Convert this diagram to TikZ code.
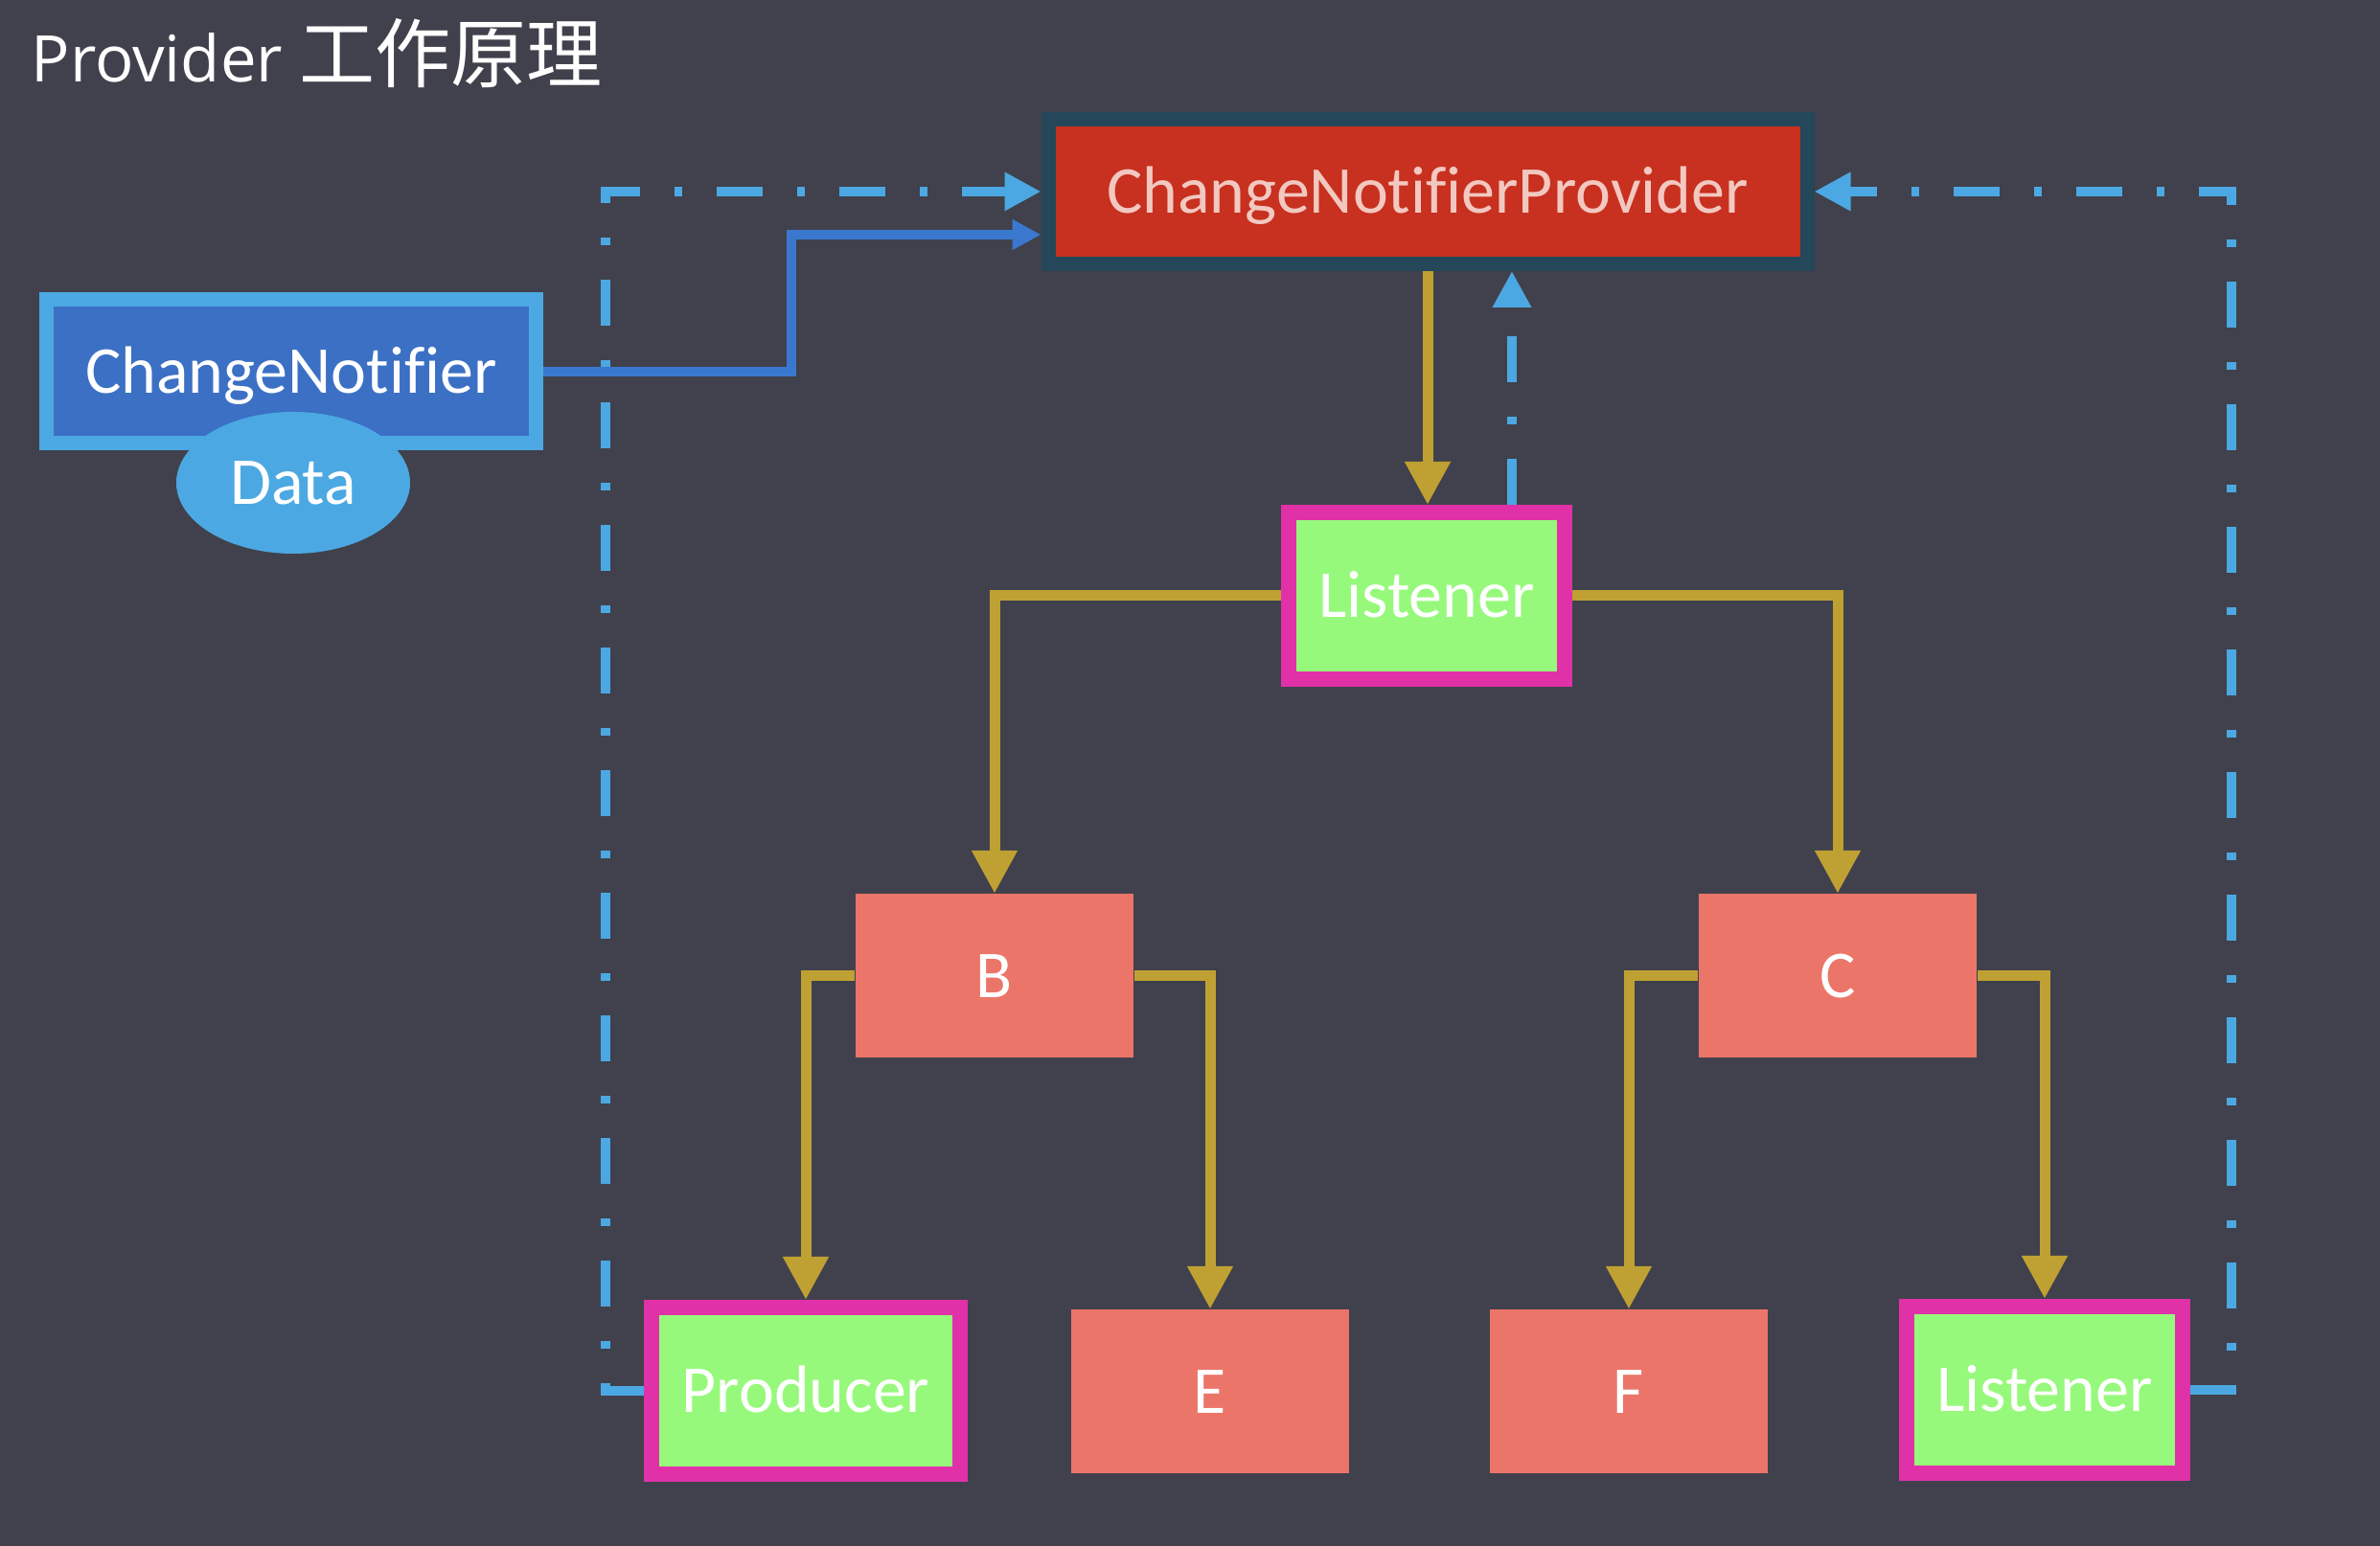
\documentclass[tikz,border=0pt]{standalone}
\usepackage{fontspec}
\setmainfont{Carlito}[Ligatures=NoCommon]
\newfontfamily\titlefont{Open Sans}
\newfontfamily\cjk{Noto Sans CJK SC}
\usetikzlibrary{arrows.meta,shapes.geometric}

\definecolor{bgc}{HTML}{40414C}
\definecolor{provred}{HTML}{C8301F}
\definecolor{provedge}{HTML}{24475A}
\definecolor{provtext}{HTML}{F2C8C0}
\definecolor{notiblue}{HTML}{3B70C4}
\definecolor{skyblue}{HTML}{4CA8E2}
\definecolor{linkblue}{HTML}{3A78D0}
\definecolor{leafgreen}{HTML}{97F97C}
\definecolor{rim}{HTML}{E031A8}
\definecolor{salmon}{HTML}{EC7569}
\definecolor{gold}{HTML}{BFA032}

\tikzset{
    boxtext/.style={font=\fontsize{19.9}{24}\selectfont, text=white, text height=0.45cm, text depth=0cm, inner sep=0pt},
    provbox/.style={boxtext, fill=provred, draw=provedge, line width=0.15cm, minimum width=7.92cm, minimum height=1.51cm, text=provtext},
    notibox/.style={boxtext, fill=notiblue, draw=skyblue, line width=0.15cm, minimum width=5.11cm, minimum height=1.50cm},
    databox/.style={boxtext, ellipse, fill=skyblue, minimum width=2.44cm, minimum height=1.48cm},
    lisbox/.style={boxtext, fill=leafgreen, draw=rim, line width=0.16cm, minimum width=2.88cm, minimum height=1.74cm},
    widgetbox/.style={boxtext, fill=salmon, minimum width=2.9cm, minimum height=1.71cm},
    tree/.style={gold, line width=0.11cm, -{Triangle[length=0.45cm,width=0.45cm]}},
    notify/.style={skyblue, line width=0.095cm, dash pattern=on 0.48cm off 0.36cm on 0.08cm off 0.36cm, -{Triangle[length=0.38cm,width=0.38cm]}},
    link/.style={linkblue, line width=0.095cm, -{Triangle[length=0.3cm,width=0.3cm]}}
}

\begin{document}
\begin{tikzpicture}
            \fill[bgc] (0,0) rectangle (24.84,16.14);
            \useasboundingbox (0,0) rectangle (24.84,16.14);

            \node (title) [anchor=base west, text=white, inner sep=0pt] at (0.32,15.28) {\titlefont\fontsize{19.1}{23}\selectfont Provider {\cjk\fontsize{22.5}{27}\selectfont 工作原理}};

            \node (prov) [provbox] at (14.90,14.14) {ChangeNotifierProvider};
            \node (noti) [notibox] at (3.04,12.26) {ChangeNotifier};
            \node (data) [databox] at (3.06,11.10) {Data};

            \node (lis) [lisbox] at (14.89,9.92) {Listener};
            \node (b) [widgetbox] at (10.38,5.95) {B};
            \node (c) [widgetbox] at (19.18,5.95) {C};
            \node (prod) [lisbox, minimum width=3.22cm] at (8.41,1.62) {Producer};
            \node (e) [widgetbox] at (12.63,1.61) {E};
            \node (f) [widgetbox] at (17.00,1.61) {F};
            \node (lis2) [lisbox] at (21.34,1.63) {Listener};

            \draw[tree] (prov.south) -- (prov.south |- lis.north);
            \draw[tree] (lis.west) -| (b.north);
            \draw[tree] (lis.east) -| (c.north);
            \draw[tree] (b.west) -| (prod.north);
            \draw[tree] (b.east) -| (e.north);
            \draw[tree] (c.west) -| (f.north);
            \draw[tree] (c.east) -| (lis2.north);

            \coordinate (up) at ([xshift=0.89cm]lis.north);
            \draw[notify] (up) -- (up |- prov.south);
            \draw[notify] (prod.west) -- ++(-0.40,0) |- (prov.west);
            \draw[notify] (lis2.east) -- ++(0.43,0) |- (prov.east);

            \draw[link] (noti.east) -- ++(2.59,0) |- ([yshift=-0.45cm]prov.west);
\end{tikzpicture}
\end{document}
